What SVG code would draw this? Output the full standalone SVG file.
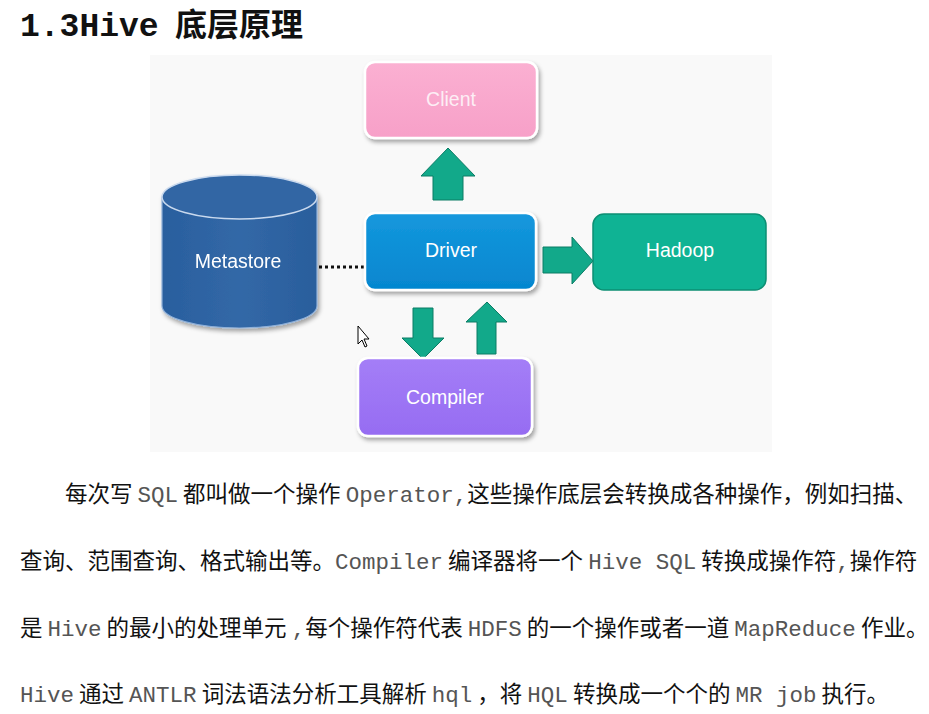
<svg xmlns="http://www.w3.org/2000/svg" width="929" height="714" viewBox="0 0 929 714">
<style>
.title-m{font-family:"Liberation Mono",monospace;font-weight:bold;font-size:33px;fill:#111}
.title-c{font-family:"Noto Sans CJK SC",sans-serif;font-weight:bold;font-size:32px;fill:#111}
.lbl{font-family:"Liberation Sans",Arial,sans-serif;font-size:19.5px;fill:#fff;text-anchor:middle}
.body{font-family:"Noto Sans CJK SC",sans-serif;font-size:22.5px;fill:#111}
.m{font-family:"Liberation Mono",monospace;font-size:22.5px;fill:#555}
.arrow{fill:#12a98a;stroke:#0b7c65;stroke-width:1}
.node{stroke:#fff;stroke-width:2.5}
</style>
<defs>
<filter id="sh" x="-10%" y="-10%" width="125%" height="135%">
<feDropShadow dx="2" dy="3" stdDeviation="2" flood-color="#000" flood-opacity="0.35"/>
</filter>
<linearGradient id="gClient" x1="0" y1="0" x2="0" y2="1"><stop offset="0" stop-color="#fbb0d2"/><stop offset="1" stop-color="#f7a0c8"/></linearGradient>
<linearGradient id="gDriver" x1="0" y1="0" x2="0" y2="1"><stop offset="0" stop-color="#1598dd"/><stop offset="1" stop-color="#0586cf"/></linearGradient>
<linearGradient id="gComp" x1="0" y1="0" x2="0" y2="1"><stop offset="0" stop-color="#a47ef7"/><stop offset="1" stop-color="#966cf2"/></linearGradient>
<linearGradient id="gCyl" x1="0" y1="0" x2="1" y2="0"><stop offset="0" stop-color="#2a5f9e"/><stop offset="0.5" stop-color="#3268a7"/><stop offset="1" stop-color="#2a5e9c"/></linearGradient>
</defs>
<rect x="150" y="55" width="622" height="397" fill="#f9f9f9"/>
<text x="20" y="36" class="title-m">1.3Hive</text>
<text x="175" y="36" class="title-c">底层原理</text>

<g id="connectors">
<line x1="319" y1="267" x2="365" y2="267" stroke="#111" stroke-width="3" stroke-dasharray="3 3"/>
<polygon class="arrow" points="448,148 475,176 463,176 463,200 433,200 433,176 421,176"/>
<polygon class="arrow" points="543,247 572,247 572,237 593,261 572,284 572,273 543,273"/>
<polygon class="arrow" points="413,308 433,308 433,338 444,338 423,359 402,338 413,338"/>
<polygon class="arrow" points="487,302 507,322 496,322 496,354 477,354 477,322 466,322"/>
</g>

<g id="client">
<rect class="node" x="365" y="62" width="172" height="76" rx="10" fill="url(#gClient)" filter="url(#sh)"/>
<text class="lbl" x="451" y="106" style="fill:#fdeef5">Client</text>
</g>
<g id="metastore" filter="url(#sh)">
<path d="M162,197 L162,306 A77.5,22 0 0 0 317,306 L317,197 Z" fill="url(#gCyl)" stroke="#8fb0d8" stroke-width="1.2"/>
<ellipse cx="239.5" cy="197" rx="77.5" ry="22" fill="#3266a4" stroke="#c9d9ee" stroke-width="1.5"/>
<text class="lbl" x="238" y="268">Metastore</text>
</g>
<g id="driver">
<rect class="node" x="365" y="213" width="171" height="77" rx="10" fill="url(#gDriver)" filter="url(#sh)"/>
<text class="lbl" x="451" y="257">Driver</text>
</g>
<g id="hadoop">
<rect x="593" y="214" width="173" height="76" rx="11" fill="#0fb394" stroke="#0c8f73" stroke-width="1.5"/>
<text class="lbl" x="680" y="257">Hadoop</text>
</g>
<g id="compiler">
<rect class="node" x="358" y="358" width="174" height="78" rx="10" fill="url(#gComp)" filter="url(#sh)"/>
<text class="lbl" x="445" y="404">Compiler</text>
</g>
<g id="cursor">
<path d="M358,326 L358,344 L362,340 L365,347 L367,346 L364,339 L369,339 Z" fill="#fff" stroke="#000" stroke-width="1"/>
</g>

<text class="body" x="65" y="502">每次写 <tspan class="m">SQL</tspan> 都叫做一个操作 <tspan class="m">Operator,</tspan>这些操作底层会转换成各种操作，例如扫描、</text>
<text class="body" x="20" y="569">查询、范围查询、格式输出等。<tspan class="m">Compiler</tspan> 编译器将一个 <tspan class="m">Hive SQL</tspan> 转换成操作符<tspan class="m">,</tspan>操作符</text>
<text class="body" x="20" y="636">是 <tspan class="m">Hive</tspan> 的最小的处理单元 <tspan class="m">,</tspan>每个操作符代表 <tspan class="m">HDFS</tspan> 的一个操作或者一道 <tspan class="m">MapReduce</tspan> 作业。</text>
<text class="body" x="20" y="702"><tspan class="m">Hive</tspan> 通过 <tspan class="m">ANTLR</tspan> 词法语法分析工具解析 <tspan class="m">hql</tspan> ，将 <tspan class="m">HQL</tspan> 转换成一个个的 <tspan class="m">MR job</tspan> 执行。</text>
</svg>
